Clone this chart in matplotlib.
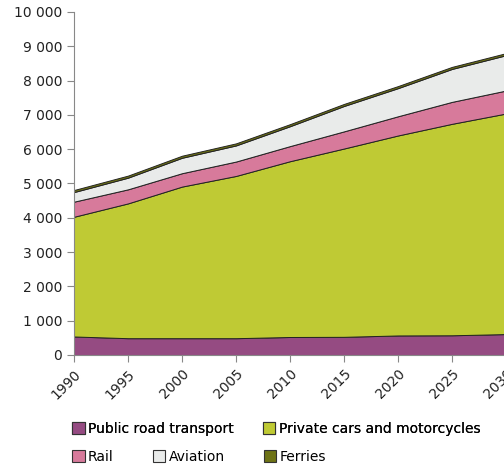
import matplotlib
matplotlib.use("Agg")
import matplotlib.pyplot as plt
from matplotlib.patches import Patch

# passenger transport by mode, stacked
years = [1990, 1995, 2000, 2005, 2010, 2015, 2020, 2025, 2030]
public_road = [540, 490, 490, 490, 525, 530, 570, 575, 610]
private_cars = [3490, 3930, 4420, 4730, 5125, 5490, 5830, 6165, 6430]
rail = [440, 410, 390, 420, 440, 500, 560, 640, 670]
aviation = [280, 340, 450, 470, 580, 740, 820, 960, 1030]
ferries = [60, 60, 60, 60, 60, 60, 60, 60, 60]

labels = ["Public road transport", "Private cars and motorcycles",
          "Rail", "Aviation", "Ferries"]
colors = ["#954b82", "#bfca34", "#d77a9b", "#e9ebea", "#6e7316"]

fig = plt.figure(figsize=(5.04, 4.66), dpi=100)
ax = fig.add_axes([74/504, 111/466, 432/504, 343/466])

ax.stackplot(years, public_road, private_cars, rail, aviation, ferries,
             colors=colors, edgecolor="#222222", linewidth=0.7)

ax.set_xlim(1990, 2030)
ax.set_ylim(0, 10000)
ax.set_xticks(years)
ax.set_xticklabels([str(y) for y in years], rotation=45, ha="right",
                   rotation_mode="anchor", fontsize=10)
yt = list(range(0, 10001, 1000))
ax.set_yticks(yt)
ax.set_yticklabels([f"{v:,}".replace(",", " ") for v in yt], fontsize=10)

for s in ["top", "right"]:
    ax.spines[s].set_visible(False)
for s in ["left", "bottom"]:
    ax.spines[s].set_color("#888888")
ax.tick_params(colors="#888888", labelcolor="#222222", length=5)

handles = [Patch(facecolor=c, edgecolor="#333333", linewidth=0.8) for c in colors]
common = dict(loc="center left", frameon=False, fontsize=10, borderpad=0,
              borderaxespad=0, handlelength=0.9, handleheight=0.9,
              handletextpad=0.25)
leg1 = fig.legend(handles[:2], labels[:2], ncol=2,
                  bbox_to_anchor=(72/504, 1 - 429/466), columnspacing=2.1,
                  **common)
fig.add_artist(leg1)
fig.legend(handles[2:], labels[2:], ncol=3,
           bbox_to_anchor=(72/504, 1 - 457/466), columnspacing=2.8, **common)

fig.savefig("out.png", dpi=100)
